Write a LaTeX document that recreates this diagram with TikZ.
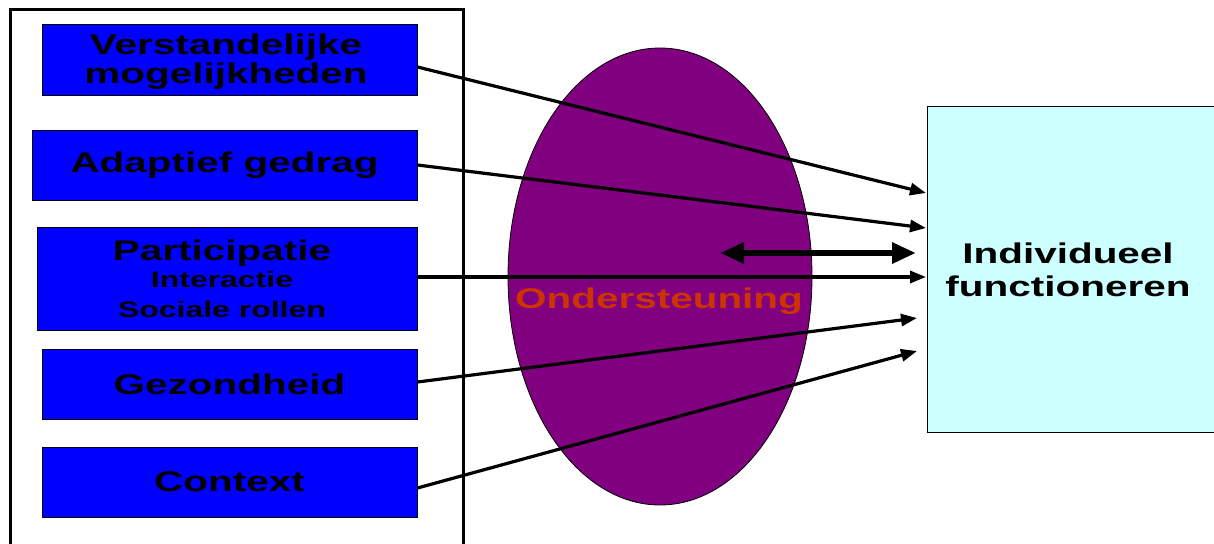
\documentclass[tikz,border=0pt]{standalone}
\usepackage{fontspec}
\setmainfont{Liberation Sans}[FakeStretch=1.42]
\usetikzlibrary{arrows.meta,shapes.geometric}
\definecolor{boxblue}{RGB}{0,0,255}
\definecolor{ellpurple}{RGB}{128,0,128}
\definecolor{indcyan}{RGB}{204,255,255}
\definecolor{ondred}{RGB}{204,51,0}
\tikzset{
  factor/.style={draw=black, line width=1pt, fill=boxblue, minimum width=375pt, inner sep=0pt, align=center, font=\fontsize{28.5}{30}\selectfont\bfseries, text=black},
  infl/.style={line width=3.2pt, -{Triangle[length=16pt,width=12pt]}},
  dbl/.style={line width=6pt, {Triangle[length=24pt,width=20pt]}-{Triangle[length=24pt,width=20pt]}},
}
\begin{document}
\begin{tikzpicture}[x=1pt,y=-1pt]
\useasboundingbox (0,0) rectangle (1214,543);
\clip (0,0) rectangle (1214,543);
\fill[white] (0,0) rectangle (1214,543);
% outer frame
\draw[line width=3pt] (10,560) -- (10,10) -- (463,10) -- (463,560);
% factor boxes
\node[factor, minimum height=70pt] (b1) at (229.5,60) {};
\node[align=center, font=\fontsize{28.5}{28.5}\selectfont\bfseries, anchor=base] (b1t) at (226,83) {Verstandelijke\\mogelijkheden};
\node[factor, minimum width=385pt, minimum height=70pt] (b2) at (224.5,165) {Adaptief gedrag};
\node[factor, minimum width=380pt, minimum height=103pt] (b3) at (227,278.5) {};
\node[align=center, font=\fontsize{28.5}{30}\selectfont\bfseries, anchor=base] (b3t) at (222,317) {Participatie\\[-3pt]{\fontsize{22.5}{27}\selectfont Interactie}\\{\fontsize{22.5}{27}\selectfont Sociale rollen}};
\node[factor, minimum height=70pt] (b4) at (229.5,384) {Gezondheid};
\node[factor, minimum height=70pt] (b5) at (229.5,482) {Context};
% support ellipse
\node[ellipse, draw=black, line width=0.8pt, fill=ellpurple, minimum width=304pt, minimum height=457pt, inner sep=0pt] (ell) at (660,276.5) {};
% individual functioning
\node[rectangle, draw=black, line width=1pt, fill=indcyan, minimum width=300pt, minimum height=326pt, anchor=north west] (ind) at (927,106) {};
\node[font=\fontsize{28.5}{33}\selectfont\bfseries, align=center] (indtxt) at (1068,270) {Individueel\\functioneren};
% targets
\coordinate (t1) at (926,193);
\coordinate (t2) at (926,228);
\coordinate (t3) at (926,277);
\coordinate (t4) at (917,318);
\coordinate (t5) at (917,351);
\coordinate (d1) at (720,253);
\coordinate (d2) at (916,253);
% arrows
\draw[infl] ([yshift=-7pt]b1.east) -- (t1);
\draw[infl] (b2.east) -- (t2);
\draw[infl] ([yshift=1.5pt]b3.east) -- (t3);
\draw[infl] ([yshift=2pt]b4.east) -- (t4);
\draw[infl] ([yshift=-6pt]b5.east) -- (t5);
\draw[dbl] (d1) -- (d2);
% label
\node[font=\fontsize{28.5}{30}\selectfont\bfseries, text=ondred, anchor=base] (ondtxt) at (659,308) {Ondersteuning};
\end{tikzpicture}
\end{document}
